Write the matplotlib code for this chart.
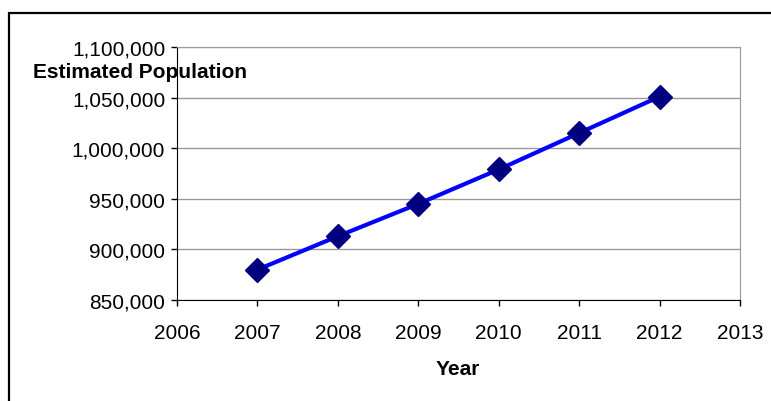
import matplotlib
matplotlib.use("Agg")
import matplotlib.pyplot as plt
from matplotlib.patches import Rectangle
from matplotlib.ticker import FuncFormatter

years = [2007, 2008, 2009, 2010, 2011, 2012]
population = [880000, 913000, 945000, 979000, 1015000, 1051000]
x_ticks = [2006, 2007, 2008, 2009, 2010, 2011, 2012, 2013]
y_ticks = [850000, 900000, 950000, 1000000, 1050000, 1100000]

plt.rcParams['font.family'] = ['Liberation Sans', 'DejaVu Sans']

W, H = 771, 402
fig = plt.figure(figsize=(W / 100, H / 100), dpi=100)
ax = fig.add_axes([177 / W, 1 - 301 / H, (740 - 177) / W, (301 - 48) / H])

ax.plot(years, population, color='#0000FF', lw=3, marker='D', markersize=12,
        markerfacecolor='#000080', markeredgecolor='#000080', zorder=3)

ax.set_xlim(2006, 2013)
ax.set_ylim(850000, 1100000)
ax.set_xticks(x_ticks)
ax.set_yticks(y_ticks)
ax.yaxis.set_major_formatter(FuncFormatter(lambda v, p: f"{int(v):,}"))
ax.grid(axis='y', color='#999999', lw=1)
ax.set_axisbelow(True)
ax.tick_params(labelsize=15, colors='black', length=4.5, width=1, direction='out')
ax.tick_params(axis='x', pad=12)
ax.tick_params(axis='y', pad=4)
for s in ['top', 'right']:
    ax.spines[s].set_color('#999999')
for s in ['left', 'bottom']:
    ax.spines[s].set_color('black')

fig.text(458 / W, 1 - 370 / H, 'Year', ha='center', va='center', fontsize=15, fontweight='bold')
fig.text(33 / W, 1 - 72 / H, 'Estimated Population', ha='left', va='center', fontsize=15, fontweight='bold')

fig.patches.append(Rectangle((8.5 / W, -0.1), 1.2, (1 - 14 / H) + 0.1, transform=fig.transFigure,
                             fill=False, edgecolor='black', lw=1.6))

fig.savefig('out.png', dpi=100)
